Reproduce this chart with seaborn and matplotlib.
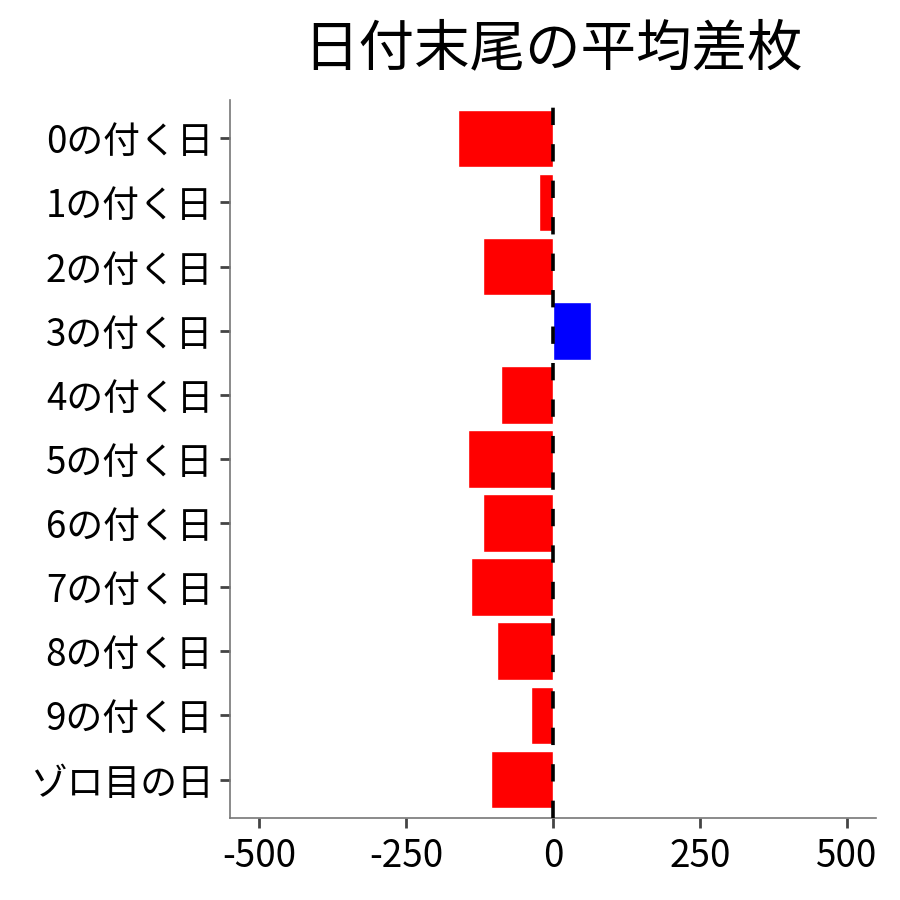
import matplotlib
matplotlib.use("Agg")
import matplotlib.pyplot as plt
import seaborn as sns
import pandas as pd

categories = ["0の付く日", "1の付く日", "2の付く日", "3の付く日", "4の付く日",
              "5の付く日", "6の付く日", "7の付く日", "8の付く日", "9の付く日", "ゾロ目の日"]
values = [-161, -23, -120, 64, -89, -145, -120, -139, -96, -38, -105]
x_ticks = [-500, -250, 0, 250, 500]
title = "日付末尾の平均差枚"

sns.set_theme(style="ticks")
plt.rcParams["font.family"] = ["Noto Sans CJK JP", "DejaVu Sans"]
plt.rcParams["axes.unicode_minus"] = False

df = pd.DataFrame({"cat": categories, "val": values})
df["sign"] = ["pos" if v > 0 else "neg" for v in values]

fig = plt.figure(figsize=(9, 9), dpi=100)
ax = fig.add_axes([0.2556, 0.0911, 0.7177, 0.7979])

sns.barplot(data=df, x="val", y="cat", hue="sign", order=categories,
            palette={"neg": "#FF0000", "pos": "#0000FF"}, width=0.9,
            dodge=False, legend=False, saturation=1, ax=ax, orient="h")

ax.axvline(0, color="black", linewidth=2.6, linestyle=(0, (4.8, 5.3)), zorder=5)

ax.set_xlim(-550, 550)
ax.set_ylim(len(categories) - 1 + 0.6, -0.6)
ax.set_xticks(x_ticks)
ax.set_xticklabels([str(t) for t in x_ticks])
ax.set_xlabel("")
ax.set_ylabel("")

for s in ["top", "right"]:
    ax.spines[s].set_visible(False)
for s in ["left", "bottom"]:
    ax.spines[s].set_color("#777777")
    ax.spines[s].set_linewidth(1.2)

ax.tick_params(axis="both", colors="#444444", length=7, width=2,
               labelsize=26.5, labelcolor="black", pad=5)
ax.tick_params(axis="x", pad=7)

ax.set_title(title, fontsize=40, pad=25, color="black")

fig.savefig("out.png", dpi=100)
